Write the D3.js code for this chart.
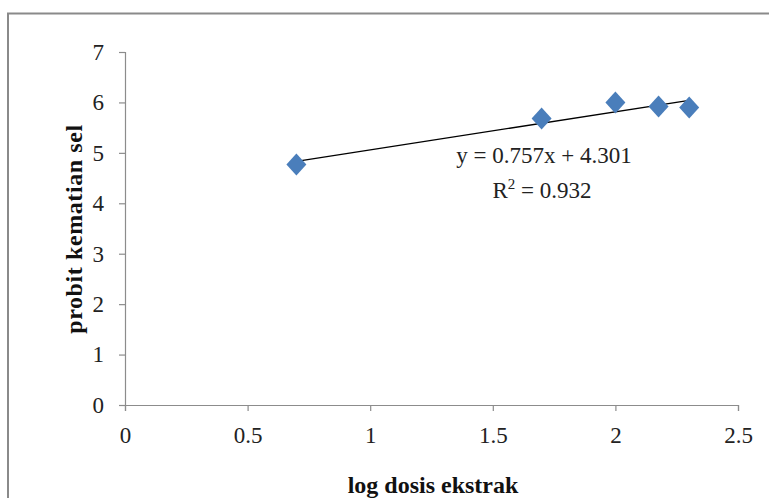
<!DOCTYPE html>
<html>
<head>
<meta charset="utf-8">
<script src="https://cdn.jsdelivr.net/npm/d3@7"></script>
<style>
  body { margin: 0; background: #fff; }
  svg { display: block; }
</style>
</head>
<body>
<div id="chart"></div>
<script>
// Data
const logDose = [0.699, 1.699, 2.0, 2.176, 2.301];
const probit = [4.77, 5.68, 6.0, 5.92, 5.9];
const xTicks = [0, 0.5, 1, 1.5, 2, 2.5];
const yTicks = [0, 1, 2, 3, 4, 5, 6, 7];
const slope = 0.757;
const intercept = 4.301;
const equationLabel = "y = 0.757x + 4.301";
const r2Label = "0.932";

const width = 769;
const height = 498;
const margin = { top: 52, right: 31, bottom: 93, left: 125 };
const plotW = width - margin.left - margin.right;
const plotH = height - margin.top - margin.bottom;
const font = "'Liberation Serif', 'DejaVu Serif', serif";
const axisColor = "#8c8c8c";

const svg = d3.select("#chart")
  .append("svg")
  .attr("width", width)
  .attr("height", height);

// outer chart border (only top and left visible in the crop)
svg.append("path")
  .attr("d", "M8,498 L8,13.5 L769,13.5")
  .attr("fill", "none")
  .attr("stroke", "#8a8a8a")
  .attr("stroke-width", 2);

const chart = svg.append("g")
  .attr("transform", `translate(${margin.left},${margin.top})`);

const x = d3.scaleLinear().domain([0, 2.5]).range([0, plotW]);
const y = d3.scaleLinear().domain([0, 7]).range([plotH, 0]);

// y axis
const yAxis = chart.append("g")
  .call(d3.axisLeft(y).tickValues(yTicks).tickFormat(d3.format("d")).tickSize(6).tickPadding(15));
// x axis
const xAxis = chart.append("g")
  .attr("transform", `translate(0,${plotH})`)
  .call(d3.axisBottom(x).tickValues(xTicks).tickFormat(d => d3.format("")(d)).tickSize(6).tickPadding(16));

[yAxis, xAxis].forEach(a => {
  a.select(".domain").attr("stroke", axisColor).attr("stroke-width", 1.2);
  a.selectAll(".tick line").attr("stroke", axisColor).attr("stroke-width", 1.2);
  a.selectAll(".tick text")
    .attr("fill", "#222")
    .style("font-family", font)
    .style("font-size", "23px");
});

// trendline
const x0 = d3.min(logDose), x1 = d3.max(logDose);
chart.append("line")
  .attr("x1", x(x0)).attr("y1", y(slope * x0 + intercept))
  .attr("x2", x(x1)).attr("y2", y(slope * x1 + intercept))
  .attr("stroke", "#000")
  .attr("stroke-width", 1.3);

// diamond markers
const diamond = "M0,-11 L10,0 L0,11 L-10,0 Z";
chart.selectAll(".pt")
  .data(logDose.map((d, i) => ({ x: d, y: probit[i] })))
  .enter()
  .append("path")
  .attr("class", "pt")
  .attr("d", diamond)
  .attr("transform", d => `translate(${x(d.x)},${y(d.y)})`)
  .attr("fill", "#4a7ebb");

// equation labels
chart.append("text")
  .attr("x", 544 - margin.left)
  .attr("y", 163 - margin.top)
  .attr("text-anchor", "middle")
  .style("font-family", font)
  .style("font-size", "23px")
  .attr("fill", "#222")
  .text(equationLabel);

const r2 = chart.append("text")
  .attr("x", 542 - margin.left)
  .attr("y", 198 - margin.top)
  .attr("text-anchor", "middle")
  .style("font-family", font)
  .style("font-size", "23px")
  .attr("fill", "#222");
r2.append("tspan").text("R");
r2.append("tspan").attr("dy", -9).style("font-size", "15px").text("2");
r2.append("tspan").attr("dy", 9).text(" = " + r2Label);

// axis titles
svg.append("text")
  .attr("x", 433)
  .attr("y", 493)
  .attr("text-anchor", "middle")
  .style("font-family", font)
  .style("font-size", "24px")
  .style("font-weight", "bold")
  .attr("fill", "#111")
  .text("log dosis ekstrak");

svg.append("text")
  .attr("transform", "translate(82,229) rotate(-90)")
  .attr("text-anchor", "middle")
  .style("font-family", font)
  .style("font-size", "24px")
  .style("font-weight", "bold")
  .style("letter-spacing", "0.6px")
  .attr("fill", "#111")
  .text("probit kematian sel");
</script>
</body>
</html>
